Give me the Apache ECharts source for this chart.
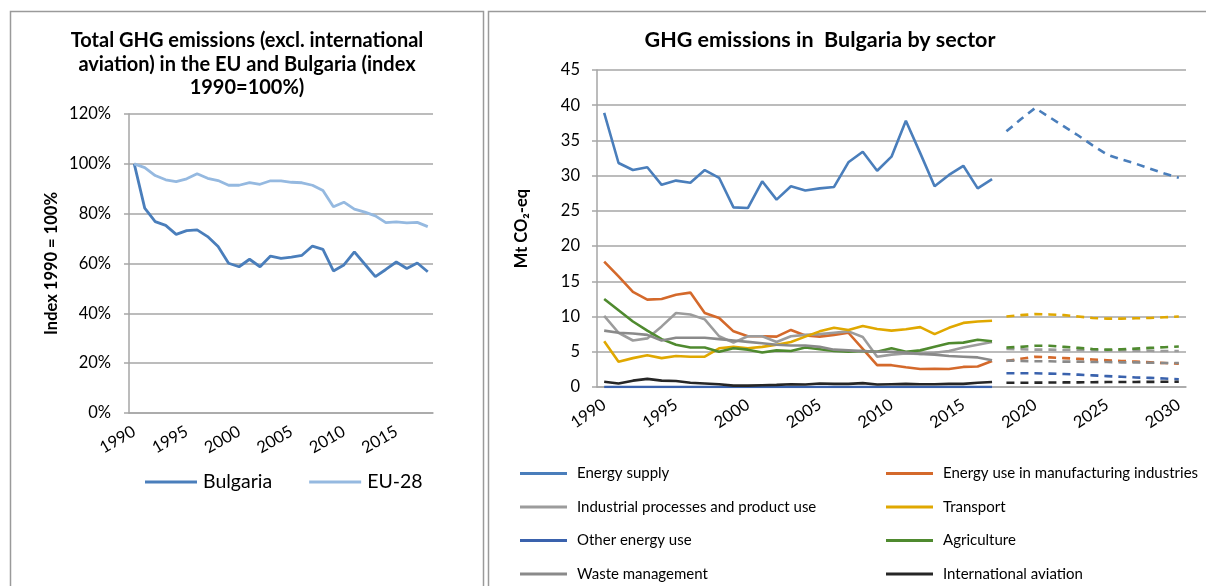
<!DOCTYPE html>
<html>
<head>
<meta charset="utf-8">
<script src="https://cdn.jsdelivr.net/npm/echarts@6/dist/echarts.min.js"></script>
<style>
  html, body { margin: 0; padding: 0; background: #fff; }
  #chart { width: 1206px; height: 586px; }
</style>
</head>
<body>
<div id="chart"></div>
<script>
// left chart: index 1990 = 100 %
var anosIndice = [];
for (var a = 1990; a <= 2018; a++) anosIndice.push(String(a));
var bulgaria = [100, 82.2, 76.8, 75.3, 71.7, 73.2, 73.5, 70.8, 66.8, 60.1, 58.7, 61.7, 58.7, 63.0, 62.1,
  62.6, 63.3, 67.0, 65.7, 57.0, 59.4, 64.7, 59.7, 54.7, 57.6, 60.6, 58.0, 60.2, 56.7];
var eu28 = [100, 98.5, 95.3, 93.6, 92.9, 94.0, 96.0, 94.2, 93.3, 91.4, 91.4, 92.5, 91.8, 93.2, 93.2,
  92.6, 92.4, 91.4, 89.3, 82.8, 84.6, 81.8, 80.6, 79.1, 76.4, 76.7, 76.3, 76.5, 74.8];

// right chart: sectors, historic 1990-2017 and projections 2018-2030
var anosSector = [];
for (var b = 1990; b <= 2030; b++) anosSector.push(String(b));
var sectores = ["Energy supply", "Energy use in manufacturing industries", "Industrial processes and product use",
  "Transport", "Other energy use", "Agriculture", "Waste management", "International aviation"];
var energiaHist = [38.9, 31.8, 30.8, 31.2, 28.7, 29.3, 29.0, 30.8, 29.7, 25.5, 25.4, 29.2, 26.6, 28.5,
  27.9, 28.2, 28.4, 31.9, 33.4, 30.7, 32.7, 37.8, 33.2, 28.5, 30.1, 31.4, 28.2, 29.5];
var manufHist = [17.8, 15.7, 13.5, 12.4, 12.5, 13.1, 13.4, 10.5, 9.8, 7.9, 7.2, 7.2, 7.15, 8.1,
  7.3, 7.15, 7.4, 7.7, 5.4, 3.1, 3.1, 2.8, 2.55, 2.6, 2.55, 2.85, 2.9, 3.7];
var industriaHist = [10.1, 7.7, 6.6, 6.9, 8.6, 10.5, 10.3, 9.6, 7.2, 6.3, 7.2, 7.2, 6.4, 7.2,
  7.4, 7.5, 7.7, 7.9, 7.1, 4.3, 4.6, 4.75, 4.7, 4.85, 5.1, 5.6, 6.0, 6.4];
var transporteHist = [6.5, 3.6, 4.1, 4.5, 4.1, 4.4, 4.3, 4.3, 5.5, 5.7, 5.5, 5.7, 6.0, 6.4,
  7.15, 7.9, 8.4, 8.1, 8.66, 8.24, 8.0, 8.2, 8.5, 7.5, 8.4, 9.1, 9.3, 9.4];
var otraEnergiaHist = [0, 0, 0, 0, 0, 0, 0, 0, 0, 0, 0, 0, 0, 0,
  0, 0, 0, 0, 0, 0, 0, 0, 0, 0, 0, 0, 0, 0];
var agriHist = [12.5, 10.9, 9.3, 8.0, 6.8, 6.0, 5.6, 5.6, 5.0, 5.5, 5.3, 4.9, 5.2, 5.1,
  5.6, 5.35, 5.1, 5.0, 5.1, 5.0, 5.5, 5.0, 5.2, 5.7, 6.2, 6.3, 6.7, 6.5];
var residuosHist = [8.0, 7.7, 7.6, 7.4, 6.6, 7.0, 7.0, 7.0, 6.8, 6.6, 6.4, 6.2, 6.0, 5.9,
  5.9, 5.7, 5.3, 5.2, 5.1, 5.0, 5.0, 4.9, 4.7, 4.6, 4.4, 4.3, 4.2, 3.8];
var aviacionHist = [0.75, 0.5, 0.9, 1.15, 0.9, 0.85, 0.6, 0.5, 0.4, 0.2, 0.2, 0.25, 0.3, 0.4,
  0.35, 0.5, 0.45, 0.45, 0.55, 0.35, 0.4, 0.45, 0.4, 0.4, 0.45, 0.45, 0.6, 0.7];

var energiaProy = [36.3, 38.0, 39.6, 38.3, 37.0, 35.7, 34.3, 33.0, 32.3, 31.7, 31.0, 30.3, 29.7];
var manufProy = [3.7, 4.0, 4.3, 4.2, 4.1, 4.0, 3.9, 3.8, 3.7, 3.6, 3.5, 3.4, 3.3];
var industriaProy = [5.4, 5.35, 5.3, 5.3, 5.25, 5.25, 5.2, 5.2, 5.2, 5.15, 5.15, 5.1, 5.1];
var transporteProy = [10.0, 10.2, 10.35, 10.3, 10.2, 10.0, 9.8, 9.7, 9.7, 9.75, 9.8, 9.9, 10.0];
var otraEnergiaProy = [1.95, 1.95, 1.95, 1.9, 1.85, 1.75, 1.65, 1.55, 1.45, 1.35, 1.3, 1.2, 1.1];
var agriProy = [5.6, 5.7, 5.85, 5.85, 5.7, 5.55, 5.4, 5.3, 5.35, 5.45, 5.55, 5.65, 5.75];
var residuosProy = [3.75, 3.7, 3.65, 3.65, 3.6, 3.6, 3.55, 3.55, 3.5, 3.5, 3.45, 3.4, 3.4];
var aviacionProy = [0.6, 0.6, 0.62, 0.63, 0.65, 0.66, 0.68, 0.7, 0.7, 0.72, 0.73, 0.74, 0.75];

var colores = {
  bulgaria: "#4a7ebb",
  eu: "#95b9e0",
  sectores: ["#4a7ebb", "#d4692b", "#9c9c9c", "#e0a800", "#3a62ad", "#4f8a2f", "#8a8a8a", "#262626"]
};

var historicos = [energiaHist, manufHist, industriaHist, transporteHist, otraEnergiaHist, agriHist, residuosHist, aviacionHist];
var proyecciones = [energiaProy, manufProy, industriaProy, transporteProy, otraEnergiaProy, agriProy, residuosProy, aviacionProy];

function rellenar(valores, antes, despues) {
  var out = [];
  for (var i = 0; i < antes; i++) out.push("-");
  out = out.concat(valores);
  for (var j = 0; j < despues; j++) out.push("-");
  return out;
}

var fuente = "Lato, 'Open Sans', sans-serif";
var gris = "#a6a6a6";

document.addEventListener("DOMContentLoaded", function () {
  var chart = echarts.init(document.getElementById("chart"));

  var series = [
    {
      name: "Bulgaria", type: "line", xAxisIndex: 0, yAxisIndex: 0, data: bulgaria,
      symbol: "none", color: colores.bulgaria, lineStyle: { width: 2.8, color: colores.bulgaria }
    },
    {
      name: "EU-28", type: "line", xAxisIndex: 0, yAxisIndex: 0, data: eu28,
      symbol: "none", color: colores.eu, lineStyle: { width: 2.8, color: colores.eu }
    }
  ];

  var nHist = energiaHist.length;
  sectores.forEach(function (nombre, i) {
    series.push({
      name: nombre, type: "line", xAxisIndex: 1, yAxisIndex: 1,
      data: rellenar(historicos[i], 0, anosSector.length - nHist),
      symbol: "none", color: colores.sectores[i],
      lineStyle: { width: 2.6, color: colores.sectores[i] }
    });
  });
  sectores.forEach(function (nombre, i) {
    series.push({
      name: nombre + " projection", type: "line", xAxisIndex: 1, yAxisIndex: 1,
      data: rellenar(proyecciones[i], nHist, 0),
      symbol: "none", color: colores.sectores[i],
      lineStyle: { width: 2.6, type: [8, 6], color: colores.sectores[i] }
    });
  });

  var option = {
    animation: false,
    textStyle: { fontFamily: fuente },
    title: [
      {
        text: "Total GHG emissions (excl. international\naviation) in the EU and Bulgaria (index\n1990=100%)",
        left: 247, top: 29, textAlign: "center", padding: 0,
        textStyle: { fontFamily: fuente, fontSize: 20, fontWeight: "bold", color: "#000", lineHeight: 23.5 }
      },
      {
        text: "GHG emissions in  Bulgaria by sector",
        left: 820, top: 28, textAlign: "center", padding: 0,
        textStyle: { fontFamily: fuente, fontSize: 21.5, fontWeight: "bold", color: "#000", lineHeight: 24 }
      }
    ],
    legend: [
      {
        data: ["Bulgaria", "EU-28"], left: 145, top: 472, orient: "horizontal", padding: 0,
        icon: "rect", itemWidth: 52, itemHeight: 3, itemGap: 37,
        textStyle: { fontFamily: fuente, fontSize: 19.5, color: "#000", padding: [0, 0, 0, 1] }
      },
      {
        data: [sectores[0], sectores[2], sectores[4], sectores[6]], left: 520, top: 466, orient: "vertical", padding: 0,
        icon: "rect", itemWidth: 47, itemHeight: 3, itemGap: 18.5,
        textStyle: { fontFamily: fuente, fontSize: 15, color: "#000", padding: [0, 0, 0, 5] }
      },
      {
        data: [sectores[1], sectores[3], sectores[5], sectores[7]], left: 886, top: 466, orient: "vertical", padding: 0,
        icon: "rect", itemWidth: 47, itemHeight: 3, itemGap: 18.5,
        textStyle: { fontFamily: fuente, fontSize: 15, color: "#000", padding: [0, 0, 0, 5] }
      }
    ],
    grid: [
      { left: 129, top: 114, width: 304, height: 299 },
      { left: 597, top: 70, width: 589, height: 317 }
    ],
    xAxis: [
      {
        type: "category", gridIndex: 0, data: anosIndice, boundaryGap: true,
        axisLine: { lineStyle: { color: gris, width: 1.5 } },
        axisTick: { interval: 0, length: 5, lineStyle: { color: gris, width: 1.5 } },
        axisLabel: { interval: 4, rotate: 30, fontSize: 16.5, color: "#000", margin: 17 }
      },
      {
        type: "category", gridIndex: 1, data: anosSector, boundaryGap: true,
        axisLine: { lineStyle: { color: gris, width: 1.5 } },
        axisTick: { interval: 4, length: 5, lineStyle: { color: gris, width: 1.5 } },
        axisLabel: { interval: 4, rotate: 34, fontSize: 16.5, color: "#000", margin: 16 }
      }
    ],
    yAxis: [
      {
        type: "value", gridIndex: 0, min: 0, max: 120, interval: 20,
        name: "Index 1990 = 100%", nameLocation: "middle", nameGap: 69,
        nameTextStyle: { fontFamily: fuente, fontSize: 16.5, fontWeight: "bold", color: "#000" },
        axisLine: { show: true, lineStyle: { color: gris, width: 1.5 } },
        axisTick: { show: true, length: 5, lineStyle: { color: gris, width: 1.5 } },
        axisLabel: { formatter: "{value}%", fontSize: 16.5, color: "#000", margin: 18 },
        splitLine: { lineStyle: { color: gris, width: 1.5 } }
      },
      {
        type: "value", gridIndex: 1, min: 0, max: 45, interval: 5,
        name: "Mt CO\u2082-eq", nameLocation: "middle", nameGap: 67,
        nameTextStyle: { fontFamily: fuente, fontSize: 16.5, fontWeight: "bold", color: "#000" },
        axisLine: { show: true, lineStyle: { color: gris, width: 1.5 } },
        axisTick: { show: true, length: 5, lineStyle: { color: gris, width: 1.5 } },
        axisLabel: { fontSize: 16.5, color: "#000", margin: 17 },
        splitLine: { lineStyle: { color: gris, width: 1.5 } }
      }
    ],
    graphic: [
      { type: "rect", shape: { x: 10.5, y: 11.5, width: 473, height: 600 }, style: { fill: "none", stroke: "#9a9a9a", lineWidth: 1.5 }, silent: true },
      { type: "rect", shape: { x: 488.5, y: 11.5, width: 740, height: 600 }, style: { fill: "none", stroke: "#9a9a9a", lineWidth: 1.5 }, silent: true }
    ],
    series: series
  };

  chart.setOption(option);
});
</script>
</body>
</html>
